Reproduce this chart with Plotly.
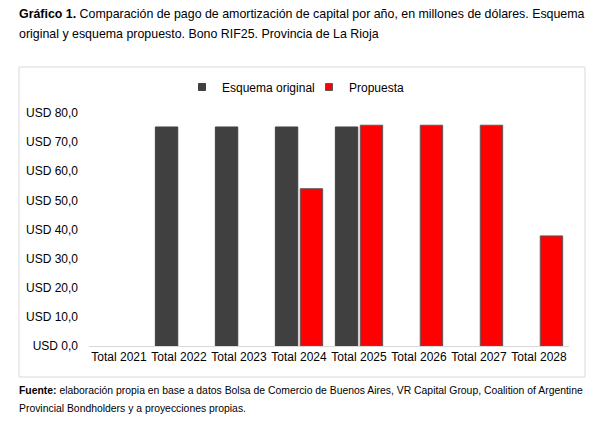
import plotly.graph_objects as go

categories = ["Total 2021", "Total 2022", "Total 2023", "Total 2024",
              "Total 2025", "Total 2026", "Total 2027", "Total 2028"]
original = [None, 75.2, 75.2, 75.2, 75.2, None, None, None]
propuesta = [None, None, None, 54.0, 75.8, 75.8, 75.8, 37.8]
y_ticks = [0, 10, 20, 30, 40, 50, 60, 70, 80]
y_tick_labels = ["USD 0,0", "USD 10,0", "USD 20,0", "USD 30,0", "USD 40,0",
                 "USD 50,0", "USD 60,0", "USD 70,0", "USD 80,0"]

OFF = 8  # default page body margin
W, H = 605 - OFF, 430 - OFF
ml = 89 - OFF
mr = W - (569 - OFF)
mt = 113 - OFF
mb = H - (346 - OFF)
pw, ph = W - ml - mr, H - mt - mb

def px(x):
    return (x - OFF - ml) / pw

def py(y):
    return (H + OFF - mb - y) / ph

FONT = "Liberation Sans, Arial, sans-serif"
GRAY = "#404040"
RED = "#ff0000"
EDGE = "#595959"

fig = go.Figure()
fig.add_trace(go.Bar(x=categories, y=original, name="Esquema original",
                     legendgroup="orig", showlegend=False,
                     marker=dict(color=GRAY, line=dict(color=GRAY, width=1))))
fig.add_trace(go.Bar(x=categories, y=propuesta, name="Propuesta",
                     legendgroup="prop", showlegend=False,
                     marker=dict(color=RED, line=dict(color=EDGE, width=1))))
# legend entries with small square keys
fig.add_trace(go.Scatter(x=[None], y=[None], mode="markers", name="Esquema original",
                         legendgroup="orig", hoverinfo="skip",
                         marker=dict(symbol="square", size=7, color=GRAY,
                                     line=dict(color=GRAY, width=1))))
fig.add_trace(go.Scatter(x=[None], y=[None], mode="markers", name="Propuesta",
                         legendgroup="prop", hoverinfo="skip",
                         marker=dict(symbol="square", size=7, color=RED,
                                     line=dict(color=EDGE, width=1))))

fig.update_layout(
    width=W, height=H,
    margin=dict(l=ml, r=mr, t=mt, b=mb, autoexpand=False),
    paper_bgcolor="white", plot_bgcolor="white",
    barmode="group", bargap=0.17, bargroupgap=0.1,
    font=dict(family=FONT, size=12, color="#000000"),
    showlegend=True,
    legend=dict(orientation="h", x=px(309), xanchor="center", y=py(87), yanchor="middle",
                font=dict(size=12, color="#000"), itemwidth=30, traceorder="normal",
                entrywidth=82, entrywidthmode="pixels",
                bgcolor="rgba(0,0,0,0)"),
    xaxis=dict(showgrid=False, showline=True, linecolor="#d9d9d9", linewidth=1,
               ticks="", tickfont=dict(size=12), fixedrange=True),
    yaxis=dict(range=[0, 80], tickvals=y_ticks, ticktext=y_tick_labels,
               showgrid=False, zeroline=False, showline=False, ticks="",
               tickfont=dict(size=12), ticklabelstandoff=10),
    shapes=[dict(type="rect", xref="paper", yref="paper",
                 x0=px(19), x1=px(585), y0=py(377), y1=py(67),
                 line=dict(color="#d9d9d9", width=1), layer="below")],
    annotations=[
        dict(xref="paper", yref="paper", x=px(17), y=py(14), xanchor="left", yanchor="middle",
             showarrow=False, align="left",
             text="<b>Gráfico 1.</b> Comparación de pago de amortización de capital por año, en millones de dólares. Esquema",
             font=dict(size=12.4, family=FONT)),
        dict(xref="paper", yref="paper", x=px(17), y=py(34), xanchor="left", yanchor="middle",
             showarrow=False, align="left",
             text="original y esquema propuesto. Bono RIF25. Provincia de La Rioja",
             font=dict(size=12.4, family=FONT)),
        dict(xref="paper", yref="paper", x=px(17), y=py(390), xanchor="left", yanchor="middle",
             showarrow=False, align="left",
             text="<b>Fuente:</b> elaboración propia en base a datos Bolsa de Comercio de Buenos Aires, VR Capital Group, Coalition of Argentine",
             font=dict(size=10.4, family=FONT)),
        dict(xref="paper", yref="paper", x=px(17), y=py(408), xanchor="left", yanchor="middle",
             showarrow=False, align="left",
             text="Provincial Bondholders y a proyecciones propias.",
             font=dict(size=10.4, family=FONT)),
    ],
)

fig.write_html("out.html")
